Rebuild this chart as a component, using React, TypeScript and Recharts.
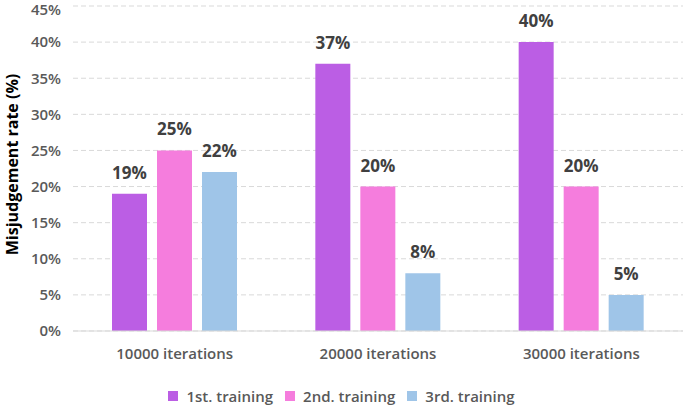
import { BarChart, Bar, XAxis, YAxis, CartesianGrid, Legend, LabelList } from 'recharts';

const categories = ['10000 iterations', '20000 iterations', '30000 iterations'];
const first = [19, 37, 40];
const second = [25, 20, 20];
const third = [22, 8, 5];
const yTicks = [0, 5, 10, 15, 20, 25, 30, 35, 40, 45];

const data = categories.map((name, i) => ({
  name,
  first: first[i],
  second: second[i],
  third: third[i],
}));

const font = 'Open Sans, Noto Sans, sans-serif';

const legendItems = [
  { label: '1st. training', color: '#bb5ee4' },
  { label: '2nd. training', color: '#f57ddd' },
  { label: '3rd. training', color: '#9fc5e8' },
];

function LegendContent() {
  return (
    <div style={{ display: 'flex', justifyContent: 'center', gap: 12, paddingTop: 19, fontFamily: font, fontSize: 15, fontWeight: 600, color: '#595959', lineHeight: '20px' }}>
      {legendItems.map((it) => (
        <span key={it.label} style={{ display: 'flex', alignItems: 'center' }}>
          <span style={{ width: 10, height: 10, background: it.color, marginRight: 8, display: 'inline-block' }} />
          {it.label}
        </span>
      ))}
    </div>
  );
}

export default function App() {
  const label = { fill: '#404040', fontSize: 17, fontWeight: 700, fontFamily: font };
  const tick = { fill: '#595959', fontSize: 15, fontWeight: 600, fontFamily: font };
  return (
    <div style={{ position: 'absolute', left: 0, top: 0, background: '#fff' }}>
      <BarChart
        width={685}
        height={407}
        data={data}
        margin={{ top: 6, right: 2, left: 0, bottom: 0 }}
        barCategoryGap={39}
        barGap={10}
      >
        <CartesianGrid vertical={false} stroke="#d9d9d9" strokeDasharray="5 3" />
        <XAxis
          dataKey="name"
          height={36}
          tickLine={false}
          axisLine={{ stroke: '#d9d9d9' }}
          tick={tick}
          dy={9}
        />
        <YAxis
          width={73}
          domain={[0, 45]}
          ticks={yTicks}
          tickFormatter={(v) => `${v}%`}
          axisLine={false}
          tickLine={false}
          tick={tick}
          dx={-4}
          label={{
            value: 'Misjudgement rate (%)',
            angle: -90,
            position: 'insideLeft',
            dx: 7,
            dy: -4,
            style: { textAnchor: 'middle', fill: '#000', fontSize: 16, fontWeight: 700, fontFamily: font },
          }}
        />
        <Legend verticalAlign="bottom" height={40} content={<LegendContent />} />
        <Bar dataKey="first" fill="#bb5ee4" isAnimationActive={false}>
          <LabelList dataKey="first" position="top" offset={15} formatter={(v: number) => `${v}%`} style={label} />
        </Bar>
        <Bar dataKey="second" fill="#f57ddd" isAnimationActive={false}>
          <LabelList dataKey="second" position="top" offset={15} formatter={(v: number) => `${v}%`} style={label} />
        </Bar>
        <Bar dataKey="third" fill="#9fc5e8" isAnimationActive={false}>
          <LabelList dataKey="third" position="top" offset={15} formatter={(v: number) => `${v}%`} style={label} />
        </Bar>
      </BarChart>
    </div>
  );
}
